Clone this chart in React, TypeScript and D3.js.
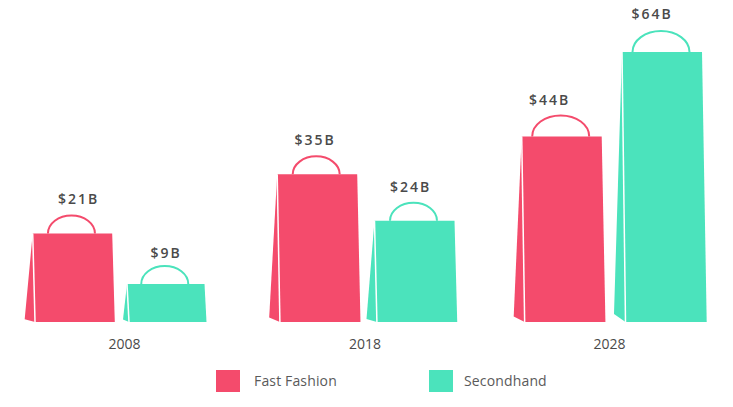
import React, { useEffect, useRef } from 'react';
import { axisBottom, path, ScalePoint, scaleLinear, scalePoint, select } from 'd3';

const years = ['2008', '2018', '2028'];
const fastFashion = [21, 35, 44];
const secondhand = [9, 24, 64];
const seriesNames = ['Fast Fashion', 'Secondhand'];

const PINK = '#f44b6c';
const TEAL = '#4be3bc';
const TEXT = '#4a4a4a';
const FONT = "'Open Sans', sans-serif";

// value labels do not sit centred over the bags in the original
const pinkLabelShift = [[6, 1], [-2, 0.5], [-12, 2]];
const tealLabelShift = [[-1, 4], [-4, 1.5], [-10, 0]];
const yearLabelShift = [0, -2, 0];

const scaleY = scaleLinear().domain([0, 64]).range([322, 52]);
const scalePink = scalePoint<string>().domain(years).range([32.7, 521.7]);
const scaleTeal = scalePoint<string>().domain(years).range([127, 622]);
const scaleYear = scalePoint<string>().domain(years).range([124, 609]);

// the bags get wider, more flared and deeper as they get taller
const bagWidth = scaleLinear().domain([9, 24]).range([77.5, 80]).clamp(true);
const flapWidth = scaleLinear().domain([9, 21]).range([4, 8]).clamp(true);
const flapDrop = scaleLinear().domain([20, 64]).range([2.6, 8]).clamp(true);
const flareLeft = scaleLinear().domain([9, 64]).range([2, 3.5]);
const flareRight = scaleLinear().domain([9, 64]).range([2, 4.7]);

interface BagProps {
  x: number;
  value: number;
  color: string;
  labelShift: number[];
}

function Bag({ x, value, color, labelShift }: BagProps) {
  const top = scaleY(value);
  const bottom = scaleY(0);
  const width = bagWidth(value);
  const left = x + flareLeft(value);
  const right = x + width + flareRight(value);

  const body = path();
  body.moveTo(x, top);
  body.lineTo(x + width, top);
  body.lineTo(right, bottom);
  body.lineTo(left, bottom);
  body.closePath();

  const flap = path();
  flap.moveTo(x, top);
  flap.lineTo(left, bottom);
  flap.lineTo(x - flapWidth(value), bottom - flapDrop(value));
  flap.closePath();

  // half ellipse, drawn as two quarter curves
  const rx = value > 40 ? 28.5 : 23.5;
  const ry = value > 40 ? 21 : 18;
  const cx = x + width / 2 - 1;
  const k = 0.55;
  const handle = path();
  handle.moveTo(cx - rx, top);
  handle.bezierCurveTo(cx - rx, top - ry * k, cx - rx * k, top - ry, cx, top - ry);
  handle.bezierCurveTo(cx + rx * k, top - ry, cx + rx, top - ry * k, cx + rx, top);

  return (
    <g>
      <path d={handle.toString()} fill="none" stroke={color} strokeWidth={2} />
      <path d={flap.toString()} fill={color} />
      <path d={body.toString()} fill={color} />
      <line x1={x} y1={top} x2={left} y2={bottom} stroke="#fff" strokeWidth={1.5} />
      <text
        x={x + 40 + labelShift[0]}
        y={top - ry - 12 + labelShift[1]}
        textAnchor="middle"
        fontFamily={FONT}
        fontSize={14}
        fontWeight={600}
        letterSpacing={2}
        fill={TEXT}
      >
        {`$${value}B`}
      </text>
    </g>
  );
}

function AxisBottom({ scale }: { scale: ScalePoint<string> }) {
  const ref = useRef<SVGGElement>(null);

  useEffect(() => {
    if (ref.current) {
      select(ref.current)
        .call(axisBottom(scale).tickSize(0))
        .call((g) => {
          g.selectAll('.domain').remove();
          g.selectAll('.tick text')
            .attr('font-size', 14)
            .attr('font-family', FONT)
            .attr('fill', TEXT)
            .attr('dy', 0)
            .attr('y', 0)
            .attr('dx', (_, i) => yearLabelShift[i]);
        });
    }
  }, [scale]);

  return <g ref={ref} transform="translate(0, 349)" />;
}

export default function App() {
  return (
    <svg
      width={733}
      height={407}
      style={{ position: 'absolute', top: 0, left: 0, background: '#fff' }}
    >
      {years.map((year, i) => (
        <g key={year}>
          <Bag
            x={scalePink(year) as number}
            value={fastFashion[i]}
            color={PINK}
            labelShift={pinkLabelShift[i]}
          />
          <Bag
            x={scaleTeal(year) as number}
            value={secondhand[i]}
            color={TEAL}
            labelShift={tealLabelShift[i]}
          />
        </g>
      ))}
      <AxisBottom scale={scaleYear} />
      {seriesNames.map((name, i) => (
        <g key={name} transform={`translate(${i === 0 ? 216 : 429}, 370)`}>
          <rect width={24} height={22} fill={i === 0 ? PINK : TEAL} />
          <text
            x={i === 0 ? 38 : 35}
            y={16}
            fontFamily={FONT}
            fontSize={14}
            letterSpacing={0.15}
            fill="#5a5a5a"
          >
            {name}
          </text>
        </g>
      ))}
    </svg>
  );
}
